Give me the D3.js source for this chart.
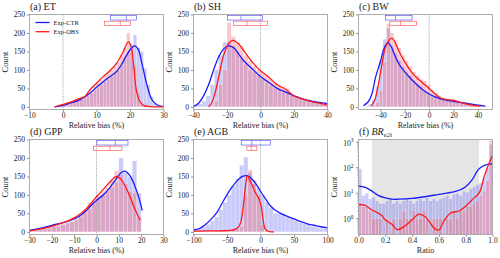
<!DOCTYPE html>
<html>
<head>
<meta charset="utf-8">
<script src="https://cdn.jsdelivr.net/npm/d3@7"></script>
<style>
body { margin: 0; background: #fff; }
text { font-family: "Liberation Serif", "Times New Roman", serif; fill: #222; }
</style>
</head>
<body>
<div id="chart"></div>
<script>
// ---- data ----
var seriesNames = ["Exp-CTR", "Exp-OBS"];

// (a) ET, bins of 1 % starting at -2
var etBins = {start: -2, width: 1};
var etCtrHist = [2,4,6,8,10,13,16,19,24,30,36,45,52,60,68,75,82,90,98,112,135,150,165,195,160,150,105,60,28,10];
var etObsHist = [1,3,5,8,12,15,22,25,27,35,45,55,65,72,85,92,100,110,120,140,160,200,170,110,40,12,4,1,0,0];
var etCtrKde = [[-2.5,0],[0,4],[2,10],[5,19],[8,37],[10,53],[12,68],[14,82],[16,96],[17.5,115],[19,140],[20.5,160],[21.5,165],[22.5,155],[23.5,120],[24.5,80],[25.5,45],[26.5,20],[28,6],[30,1]];
var etObsKde = [[-2.5,0],[2,12],[5,23],[6.5,28],[8,46],[10,64],[12,82],[14,98],[16,118],[18,150],[19.5,176],[20.3,165],[21,120],[22,40],[23,14],[24,4],[26,1],[30,0]];
var etCtrBox = [14.2, 18.9, 21.9];
var etObsBox = [12.4, 17.1, 20.1];

// (b) SH, bins of 2.5 % starting at -40
var shBins = {start: -40, width: 2.5};
var shCtrHist = [5,8,15,30,60,100,140,175,175,165,150,130,115,100,95,85,75,65,58,50,45,40,35,30,28,22,20,18,15,12,10,8];
var shObsHist = [0,0,0,0,2,15,60,100,228,190,175,165,140,125,110,100,90,85,75,65,55,55,50,30,28,25,22,20,15,12,8,5];
var shCtrKde = [[-40,1],[-37,10],[-34,30],[-31,60],[-28,100],[-25,135],[-22,157],[-19,165],[-16,160],[-13,143],[-10,125],[-5,103],[0,82],[5,66],[10,50],[15,40],[20,30],[25,22],[30,16],[35,12],[40,9]];
var shObsKde = [[-31,0],[-29,12],[-27,40],[-25,80],[-22,140],[-19,172],[-16.5,180],[-13,170],[-10,152],[-5,122],[0,98],[5,80],[10,60],[15,48],[17,40],[20,30],[25,22],[30,15],[35,10],[40,5]];
var shCtrBox = [-19.7, -11.7, 1.2];
var shObsBox = [-16.1, -8.1, 4.2];

// (c) BW, bins of 3 % starting at -53
var bwBins = {start: -53, width: 3};
var bwCtrHist = [2,8,20,55,125,183,213,165,145,125,110,95,85,72,62,55,45,38,32,28,24,20,18,17,16,15,13,12,10,8,6,5,3,2];
var bwObsHist = [0,0,3,12,45,120,225,200,180,160,140,125,110,95,85,75,70,60,45,38,30,22,20,19,18,16,14,11,8,6,4,3,2,1];
var bwCtrKde = [[-54,3],[-50,14],[-47,35],[-44,80],[-40,123],[-37,158],[-34,174],[-31,162],[-28,138],[-24,112],[-20,95],[-15,76],[-10,60],[-5,46],[0,35],[5,27],[10,21],[15,18],[20,15],[30,10],[40,5],[46,2]];
var bwObsKde = [[-47.5,2],[-45,15],[-42,55],[-39,110],[-36,160],[-33,180],[-30.5,186],[-28,175],[-25,152],[-20,122],[-15,97],[-10,78],[-7,70],[-5,64],[0,50],[5,35],[10,23],[15,20],[20,18],[25,13],[30,8],[35,5],[42,2]];
var bwCtrBox = [-35.8, -27.6, -14];
var bwObsBox = [-32.3, -23.5, -10.3];

// (d) GPP, bins of 2 % starting at -30
var gppBins = {start: -30, width: 2};
var gppCtrHist = [2,5,8,10,12,15,18,20,25,28,32,40,50,62,75,88,100,110,120,135,200,160,150,192,105];
var gppObsHist = [1,3,6,8,10,14,16,20,24,28,35,45,60,80,85,100,110,120,140,165,155,130,110,105,40];
var gppCtrKde = [[-30,4],[-25,10],[-20,18],[-15,25],[-10,35],[-7,45],[-5,55],[-3,68],[0,85],[3,100],[6,120],[9,145],[11,160],[13,164],[15,152],[17,127],[19,92],[20.5,58]];
var gppObsKde = [[-30,2],[-25,8],[-20,15],[-15,25],[-10,38],[-7,50],[-5,60],[-3,73],[0,95],[3,115],[6,135],[9,150],[11,142],[13,122],[15,95],[17,65],[19.5,32]];
var gppCtrBox = [0.2, 8.4, 14.1];
var gppObsBox = [-1.3, 6.1, 11.4];

// (e) AGB, bins of 6.25 % starting at -100
var agbBins = {start: -100, width: 6.25};
var agbCtrHist = [10,12,15,20,30,40,60,80,100,125,145,180,202,160,140,120,100,80,65,50,50,45,40,35,30,25,22,20,15,12,10,8];
var agbObsHist = [2,2,2,2,2,3,3,3,4,5,8,15,100,168,130,100,20,3,1,0,0,0,0,0,0,0,0,0,0,0,0,0];
var agbCtrKde = [[-100,5],[-90,10],[-83,19],[-75,32],[-65,53],[-55,85],[-45,115],[-35,138],[-27,150],[-20,152],[-12,142],[-5,125],[0,110],[8,88],[15,70],[21,60],[30,50],[40,42],[50,35],[60,28],[70,22],[80,18],[90,14],[100,11]];
var agbObsKde = [[-100,2],[-80,3],[-60,3],[-45,4],[-38,7],[-33,13],[-29,30],[-25,80],[-22,130],[-19.5,152],[-16,140],[-12,125],[-8,108],[-5,98],[-2,88],[1,70],[3,45],[5,20],[7,8],[10,3],[14,0.5],[20,0]];
var agbCtrBox = [-28.8, -12.9, 14.5];
var agbObsBox = [-20.3, -13.9, -5.4];

// (f) BR_e2t ratio, bins of 0.025 starting at 0, log counts
var brBins = {start: 0, width: 0.025};
var brCtrHist = [90,8,10,6,7,5,4,4,5,6,4,5,4,5,6,5,4,5,6,5,7,5,6,5,6,7,8,6,9,10,8,12,11,15,18,22,25,40,100,800];
var brObsHist = [4,3,3,2,1,1,1,0,1,0,1,0,1,2,1,1,2,1,1,2,1,0,1,1,1,0,1,1,2,1,2,2,3,3,4,5,8,12,30,1150];
var brCtrKde = [[0,19],[0.05,17],[0.1,12],[0.15,8],[0.2,6.5],[0.25,5.8],[0.3,5.8],[0.4,6.2],[0.5,7.3],[0.6,9],[0.7,11],[0.75,13],[0.8,18],[0.85,35],[0.88,65],[0.9,90],[0.95,128],[1.0,140]];
var brObsKde = [[0,3.6],[0.05,3.3],[0.1,2.2],[0.17,1.4],[0.2,0.9],[0.25,0.6],[0.29,0.37],[0.35,0.54],[0.4,0.9],[0.45,1.5],[0.5,1.17],[0.57,0.4],[0.6,0.36],[0.64,0.86],[0.69,1.7],[0.75,2],[0.8,3.1],[0.86,6.4],[0.9,10],[0.94,48],[0.97,130],[1.0,300]];
var brShade = [0.1, 0.9];

var countTicks = [0, 50, 100, 150, 200, 250];

// ---- layout ----
var W = 500, H = 258;
var colX = [29.5, 193.5, 358.5], rowY = [14.5, 139.5], pw = 134, ph = 95;
var blue = "#1a1aff", red = "#ff1a1a";

var svg = d3.select("#chart").append("svg")
    .attr("width", W).attr("height", H);

var panels = [
  {id: "a", title: "(a) ET", col: 0, row: 0, xd: [-10, 30], xt: [-10,0,10,20,30], bins: etBins, ctr: etCtrHist, obs: etObsHist, ctrK: etCtrKde, obsK: etObsKde, ctrB: etCtrBox, obsB: etObsBox, legend: true},
  {id: "b", title: "(b) SH", col: 1, row: 0, xd: [-40, 40], xt: [-40,-20,0,20,40], bins: shBins, ctr: shCtrHist, obs: shObsHist, ctrK: shCtrKde, obsK: shObsKde, ctrB: shCtrBox, obsB: shObsBox},
  {id: "c", title: "(c) BW", col: 2, row: 0, xd: [-58, 52], xt: [-40,-20,0,20,40], bins: bwBins, ctr: bwCtrHist, obs: bwObsHist, ctrK: bwCtrKde, obsK: bwObsKde, ctrB: bwCtrBox, obsB: bwObsBox},
  {id: "d", title: "(d) GPP", col: 0, row: 1, xd: [-30, 30], xt: [-30,-20,-10,0,10,20,30], bins: gppBins, ctr: gppCtrHist, obs: gppObsHist, ctrK: gppCtrKde, obsK: gppObsKde, ctrB: gppCtrBox, obsB: gppObsBox},
  {id: "e", title: "(e) AGB", col: 1, row: 1, xd: [-100, 100], xt: [-100,-50,0,50,100], bins: agbBins, ctr: agbCtrHist, obs: agbObsHist, ctrK: agbCtrKde, obsK: agbObsKde, ctrB: agbCtrBox, obsB: agbObsBox},
  {id: "f", title: "(f) ", col: 2, row: 1, xd: [0, 1], xt: [0,0.2,0.4,0.6,0.8,1.0], bins: brBins, ctr: brCtrHist, obs: brObsHist, ctrK: brCtrKde, obsK: brObsKde, log: true}
];

panels.forEach(drawPanel);

function drawPanel(p) {
  var left = colX[p.col], top = rowY[p.row];
  var g = svg.append("g").attr("transform", "translate(" + left + "," + top + ")");

  var x = d3.scaleLinear().domain(p.xd).range([0, pw]);
  var y = p.log ? d3.scaleLog().domain([0.24, 1270]).range([ph, 0])
                : d3.scaleLinear().domain([-7, 250]).range([ph, 0]);

  g.append("clipPath").attr("id", "clip-" + p.id)
    .append("rect").attr("width", pw).attr("height", ph);
  var plot = g.append("g").attr("clip-path", "url(#clip-" + p.id + ")");

  if (p.log) {
    plot.append("rect")
      .attr("x", x(brShade[0])).attr("width", x(brShade[1]) - x(brShade[0]))
      .attr("y", 0).attr("height", ph)
      .attr("fill", "#e5e5e5");
  }

  var base = p.log ? ph : y(0);
  function bars(counts, fill) {
    plot.append("g").selectAll("rect")
      .data(counts.map(function(c, i) { return {c: c, i: i}; }).filter(function(d) { return d.c > 0; }))
      .enter().append("rect")
        .attr("x", function(d) { return x(p.bins.start + d.i * p.bins.width); })
        .attr("width", function(d) { return x(p.bins.start + (d.i + 1) * p.bins.width) - x(p.bins.start + d.i * p.bins.width); })
        .attr("y", function(d) { return y(d.c); })
        .attr("height", function(d) { return base - y(d.c); })
        .attr("fill", fill)
        .attr("stroke", "#fff").attr("stroke-width", 0.3).attr("stroke-opacity", 0.6);
  }
  bars(p.ctr, "rgba(110,110,240,0.36)");
  bars(p.obs, "rgba(245,100,110,0.36)");

  if (!p.log) {
    plot.append("line")
      .attr("x1", x(0)).attr("x2", x(0)).attr("y1", 0).attr("y2", ph)
      .attr("stroke", "#777").attr("stroke-width", 0.7).attr("stroke-dasharray", "1,1.2");
  }

  var line = d3.line()
    .x(function(d) { return x(d[0]); })
    .y(function(d) { return y(Math.max(d[1], 0.05)); })
    .curve(d3.curveCatmullRom.alpha(0.5));
  plot.append("path").datum(p.ctrK).attr("d", line)
    .attr("fill", "none").attr("stroke", blue).attr("stroke-width", 1.3);
  plot.append("path").datum(p.obsK).attr("d", line)
    .attr("fill", "none").attr("stroke", red).attr("stroke-width", 1.3);

  // boxes (quartiles + median)
  if (p.ctrB) {
    [[p.ctrB, blue, 241], [p.obsB, red, 226]].forEach(function(b) {
      var q = b[0], yc = y(b[2]);
      g.append("rect")
        .attr("x", x(q[0])).attr("width", x(q[2]) - x(q[0]))
        .attr("y", yc - 2.2).attr("height", 4.4)
        .attr("fill", "none").attr("stroke", b[1]).attr("stroke-width", 0.6).attr("stroke-opacity", 0.8);
      g.append("line")
        .attr("x1", x(q[1])).attr("x2", x(q[1])).attr("y1", yc - 2.2).attr("y2", yc + 2.2)
        .attr("stroke", b[1]).attr("stroke-width", 0.6).attr("stroke-opacity", 0.8);
    });
  }

  // frame
  g.append("rect").attr("width", pw).attr("height", ph)
    .attr("fill", "none").attr("stroke", "#999").attr("stroke-width", 0.8);

  // x axis
  var xa = g.append("g").attr("transform", "translate(0," + ph + ")")
    .call(d3.axisBottom(x).tickValues(p.xt).tickSize(2.5).tickPadding(1)
      .tickFormat(p.log ? d3.format(".1f") : d3.format("d")));
  xa.select(".domain").remove();
  xa.selectAll("line").attr("stroke", "#999");
  xa.selectAll("text").attr("font-size", 7.5).style("font-family", "Liberation Serif").attr("fill", "#222");

  // y axis
  if (p.log) {
    var minor = [];
    [0.1, 1, 10, 100, 1000].forEach(function(dec) {
      for (var k = 2; k <= 9; k++) {
        var v = dec * k;
        if (v > 0.24 && v < 1270) minor.push(v);
      }
    });
    g.append("g").selectAll("line").data(minor).enter().append("line")
      .attr("x1", -1.5).attr("x2", 0)
      .attr("y1", function(d) { return y(d); }).attr("y2", function(d) { return y(d); })
      .attr("stroke", "#999").attr("stroke-width", 0.6);
    var majors = [0, 1, 2, 3];
    g.append("g").selectAll("line").data(majors).enter().append("line")
      .attr("x1", -2.5).attr("x2", 0)
      .attr("y1", function(d) { return y(Math.pow(10, d)); }).attr("y2", function(d) { return y(Math.pow(10, d)); })
      .attr("stroke", "#999");
    var lt = g.append("g").selectAll("text").data(majors).enter().append("text")
      .attr("x", -5).attr("y", function(d) { return y(Math.pow(10, d)); })
      .attr("dy", "0.45em").attr("text-anchor", "end").attr("font-size", 7.5);
    lt.append("tspan").text("10");
    lt.append("tspan").attr("font-size", 5.5).attr("dy", "-0.6em").text(function(d) { return d; });
  } else {
    var ya = g.append("g")
      .call(d3.axisLeft(y).tickValues(countTicks).tickSize(2.5).tickPadding(2));
    ya.select(".domain").remove();
    ya.selectAll("line").attr("stroke", "#999");
    ya.selectAll("text").attr("font-size", 7.5).style("font-family", "Liberation Serif").attr("fill", "#222");
  }

  // labels
  g.append("text").attr("x", pw / 2).attr("y", ph + 18)
    .attr("text-anchor", "middle").attr("font-size", 8)
    .text(p.log ? "Ratio" : "Relative bias (%)");
  g.append("text")
    .attr("transform", "translate(-21.5," + (ph / 2) + ") rotate(-90)")
    .attr("text-anchor", "middle").attr("font-size", 8.5).text("Count");

  var t = g.append("text").attr("x", 0.5).attr("y", -4.5).attr("font-size", 10).text(p.title);
  if (p.log) {
    t.append("tspan").attr("font-style", "italic").text("BR");
    t.append("tspan").attr("font-style", "italic").attr("font-size", 7).attr("dy", 2).text("e2t");
  }

  if (p.legend) {
    [[blue, seriesNames[0], 8], [red, seriesNames[1], 17.2]].forEach(function(l) {
      g.append("line").attr("x1", 6).attr("x2", 20).attr("y1", l[2]).attr("y2", l[2])
        .attr("stroke", l[0]).attr("stroke-width", 1.3);
      g.append("text").attr("x", 24).attr("y", l[2]).attr("dy", "0.35em")
        .attr("font-size", 6.5).text(l[1]);
    });
  }
}
</script>
</body>
</html>
